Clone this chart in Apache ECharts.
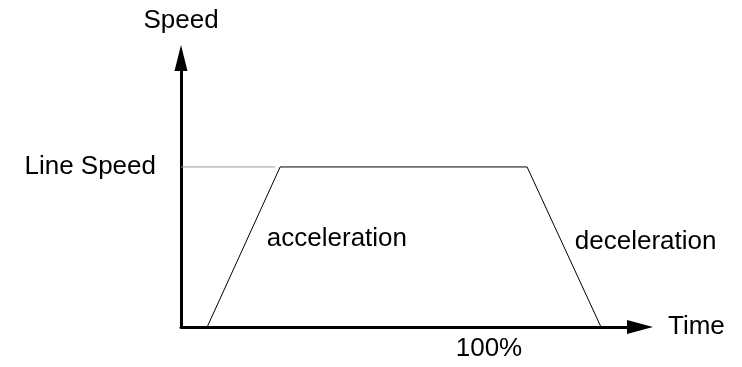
<!DOCTYPE html>
<html>
<head>
<meta charset="utf-8">
<script src="https://cdn.jsdelivr.net/npm/echarts@6/dist/echarts.min.js"></script>
<style>
  html, body { margin: 0; padding: 0; background: #fff; }
  #chart { width: 742px; height: 367px; }
</style>
</head>
<body>
<div id="chart"></div>
<script>
// speed profile (time in %, speed in % of axis)
var profileTime = [5.7, 21.6, 75.4, 91.5];
var profileSpeed = [0, 59.5, 59.5, 0];
var lineSpeed = 59.5;
var refLineEnd = 20.5;

// text labels and where they sit in data coords
var labelNames = ['acceleration', 'deceleration'];
var labelTime = [18.7, 85.8];
var labelSpeed = [32.7, 31.6];
var tickText = '100%';
var tickTime = 67.1;

var font = "'Liberation Sans', Arial, sans-serif";
var fsize = 26;

var chart = echarts.init(document.getElementById('chart'));

var profile = profileTime.map(function (t, i) { return [t, profileSpeed[i]]; });
var textPts = labelNames.map(function (n, i) { return { name: n, value: [labelTime[i], labelSpeed[i]] }; });

function textSeries(data, pos, dist) {
  return {
    type: 'scatter', data: data, symbolSize: 0, clip: false, silent: true,
    itemStyle: { opacity: 1 },
    label: { show: true, position: pos, distance: dist, formatter: '{b}', fontFamily: font, fontSize: fsize, color: '#000' }
  };
}

var option = {
  animation: false,
  grid: { left: 181, right: 102, top: 58, bottom: 40 },
  xAxis: {
    type: 'value', min: 0, max: 100,
    name: 'Time', nameLocation: 'end', nameGap: 28,
    nameTextStyle: { fontFamily: font, fontSize: fsize, color: '#000' },
    axisLine: { lineStyle: { color: '#000', width: 3 }, symbol: ['none', 'triangle'], symbolSize: [14, 26] },
    axisTick: { show: false }, axisLabel: { show: false }, splitLine: { show: false }
  },
  yAxis: {
    type: 'value', min: 0, max: 100,
    name: 'Speed', nameLocation: 'end', nameGap: 24,
    nameTextStyle: { fontFamily: font, fontSize: fsize, color: '#000' },
    axisLine: { show: true, lineStyle: { color: '#000', width: 3 }, symbol: ['none', 'triangle'], symbolSize: [13, 26] },
    axisTick: { show: false }, axisLabel: { show: false }, splitLine: { show: false }
  },
  series: [
    {
      type: 'line', data: [[0, lineSpeed], [refLineEnd, lineSpeed]],
      symbol: 'none', lineStyle: { color: '#999', width: 1 }
    },
    {
      type: 'line', data: profile, symbol: 'none',
      lineStyle: { color: '#000', width: 1 }
    },
    textSeries([{ name: 'Line Speed', value: [0, lineSpeed] }], 'left', 25),
    textSeries(textPts, 'right', 0),
    textSeries([{ name: tickText, value: [tickTime, 0] }], 'bottom', 9)
  ]
};

chart.setOption(option);
</script>
</body>
</html>
